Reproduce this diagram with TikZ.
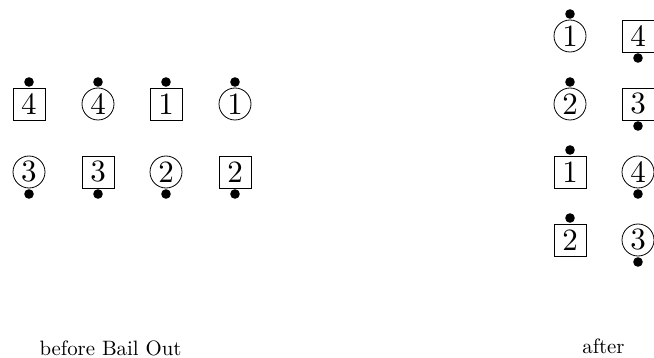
\documentclass[tikz,border=0pt]{standalone}
\usepackage{tikz}
\usepackage{graphicx}
\usetikzlibrary{positioning}

\newcommand{\seatno}[1]{\scalebox{1.55}{#1}}

\begin{document}
\begin{tikzpicture}[
  x=0.5pt, y=-0.5pt,
  seat/.style={draw, inner sep=0pt, minimum size=16pt},
  sq/.style={seat, rectangle},
  rnd/.style={seat, circle},
  dot/.style={circle, fill, inner sep=0pt, outer sep=0pt, minimum size=4.8pt},
  caption/.style={anchor=base, font=\fontsize{10.4}{12}\selectfont}]
  \useasboundingbox (0,0) rectangle (654,358);
  % before
  \node[sq]  (bs4) at (29,104)  {\seatno{4}};
  \node[rnd] (bc4) at (98,104)  {\seatno{4}};
  \node[sq]  (bs1) at (166,104) {\seatno{1}};
  \node[rnd] (bc1) at (235,104) {\seatno{1}};
  \node[rnd] (bc3) at (29,172)  {\seatno{3}};
  \node[sq]  (bs3) at (98,172)  {\seatno{3}};
  \node[rnd] (bc2) at (166,172) {\seatno{2}};
  \node[sq]  (bs2) at (235,172) {\seatno{2}};
  \node[dot, above=8.6pt of bs4.center] (bs4d) {};
  \node[dot, above=8.6pt of bc4.center] (bc4d) {};
  \node[dot, above=8.6pt of bs1.center] (bs1d) {};
  \node[dot, above=8.6pt of bc1.center] (bc1d) {};
  \node[dot, below=8.6pt of bc3.center] (bc3d) {};
  \node[dot, below=8.6pt of bs3.center] (bs3d) {};
  \node[dot, below=8.6pt of bc2.center] (bc2d) {};
  \node[dot, below=8.6pt of bs2.center] (bs2d) {};
  % after
  \node[rnd] (ac1) at (570,36)  {\seatno{1}};
  \node[sq]  (as4) at (638,36)  {\seatno{4}};
  \node[rnd] (ac2) at (570,104) {\seatno{2}};
  \node[sq]  (as3) at (638,104) {\seatno{3}};
  \node[sq]  (as1) at (570,172) {\seatno{1}};
  \node[rnd] (ac4) at (638,172) {\seatno{4}};
  \node[sq]  (as2) at (570,240) {\seatno{2}};
  \node[rnd] (ac3) at (638,240) {\seatno{3}};
  \node[dot, above=8.6pt of ac1.center] (ac1d) {};
  \node[dot, below=8.6pt of as4.center] (as4d) {};
  \node[dot, above=8.6pt of ac2.center] (ac2d) {};
  \node[dot, below=8.6pt of as3.center] (as3d) {};
  \node[dot, above=8.6pt of as1.center] (as1d) {};
  \node[dot, below=8.6pt of ac4.center] (ac4d) {};
  \node[dot, above=8.6pt of as2.center] (as2d) {};
  \node[dot, below=8.6pt of ac3.center] (ac3d) {};
  % captions
  \node[caption] (cbefore) at (110.5,355) {before Bail Out};
  \node[caption] (cafter)  at (603.5,353) {after};
\end{tikzpicture}
\end{document}
